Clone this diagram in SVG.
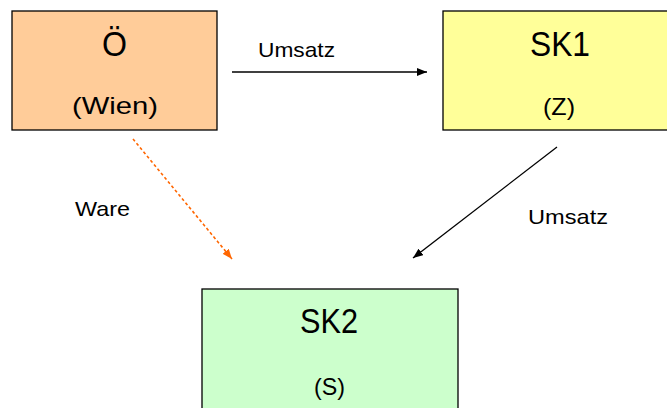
<svg xmlns="http://www.w3.org/2000/svg" width="667" height="408" viewBox="0 0 667 408">
<style>
.box{stroke:#000;stroke-width:1.3}
.big{font-family:"Liberation Sans",Arial,sans-serif;font-size:35px;fill:#000;text-anchor:middle}
.mid{font-family:"Liberation Sans",Arial,sans-serif;font-size:24px;fill:#000;text-anchor:middle}
.lbl{font-family:"Liberation Sans",Arial,sans-serif;font-size:21px;fill:#000}
.blk{stroke:#000;stroke-width:1.3;fill:none}
.org{stroke:#FF6600;stroke-width:1.6;fill:none;stroke-dasharray:3 2.5}
</style>
<defs>
<marker id="ab" markerWidth="10" markerHeight="8" refX="10" refY="4" orient="auto" markerUnits="userSpaceOnUse">
<path d="M0,0 L10,4 L0,8 Z" fill="#000"/>
</marker>
<marker id="ao" markerWidth="10" markerHeight="8" refX="10" refY="4" orient="auto" markerUnits="userSpaceOnUse">
<path d="M0,0 L10,4 L0,8 Z" fill="#FF6600"/>
</marker>
</defs>
<rect width="667" height="408" fill="#fff"/>
<g id="node-oe">
<rect class="box" x="12" y="11" width="205" height="119" fill="#FFCC99"/>
<text class="big" x="114.5" y="56" textLength="25" lengthAdjust="spacingAndGlyphs">Ö</text>
<text class="mid" x="115" y="114" textLength="86" lengthAdjust="spacingAndGlyphs">(Wien)</text>
</g>
<g id="node-sk1">
<rect class="box" x="443" y="11" width="240" height="119" fill="#FFFF99"/>
<text class="big" x="560" y="56" textLength="60" lengthAdjust="spacingAndGlyphs">SK1</text>
<text class="mid" x="559" y="115" textLength="32" lengthAdjust="spacingAndGlyphs">(Z)</text>
</g>
<g id="node-sk2">
<rect class="box" x="202" y="289" width="256" height="130" fill="#CCFFCC"/>
<text class="big" x="329" y="333" textLength="58" lengthAdjust="spacingAndGlyphs">SK2</text>
<text class="mid" x="329.5" y="395" textLength="31" lengthAdjust="spacingAndGlyphs">(S)</text>
</g>
<g id="connectors">
<line class="blk" x1="232" y1="72" x2="427" y2="72" marker-end="url(#ab)"/>
<line class="blk" x1="557" y1="147" x2="413" y2="258" marker-end="url(#ab)"/>
<line class="org" x1="133" y1="139" x2="232" y2="259" marker-end="url(#ao)"/>
<text class="lbl" x="258" y="57" textLength="77" lengthAdjust="spacingAndGlyphs">Umsatz</text>
<text class="lbl" x="528" y="224" textLength="80" lengthAdjust="spacingAndGlyphs">Umsatz</text>
<text class="lbl" x="75" y="216" textLength="55" lengthAdjust="spacingAndGlyphs">Ware</text>
</g>
</svg>
